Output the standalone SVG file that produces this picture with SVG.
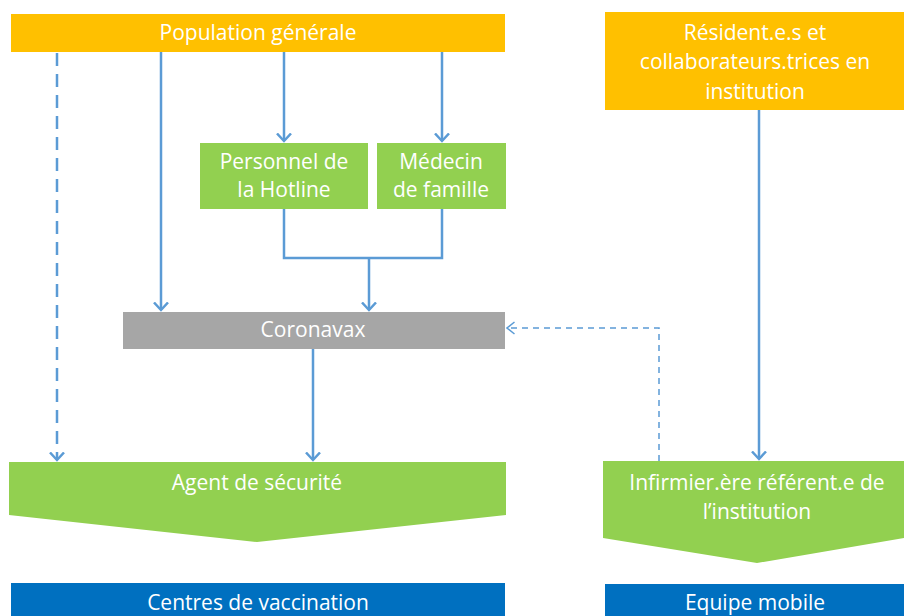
<svg xmlns="http://www.w3.org/2000/svg" width="904" height="616" viewBox="0 0 904 616">
<style>
.t{font-family:"Open Sans","Noto Sans","Liberation Sans",sans-serif;font-size:21px;fill:#fff;text-anchor:middle}
.or{fill:#FFC000}.gr{fill:#92D050}.gy{fill:#A6A6A6}.bl{fill:#0070C0}
.c{fill:none;stroke:#5B9BD5;stroke-width:2.5}
.cd{fill:none;stroke:#5B9BD5;stroke-width:2.5;stroke-dasharray:13 8}
.ct{fill:none;stroke:#5B9BD5;stroke-width:1.5;stroke-dasharray:6 5}
</style>
<defs>
<marker id="a" viewBox="0 0 10 16" refX="8.5" refY="8" markerWidth="10" markerHeight="16" markerUnits="userSpaceOnUse" orient="auto">
<path d="M1,1 L8.5,8 L1,15" fill="none" stroke="#5B9BD5" stroke-width="2.5"/>
</marker>
<marker id="b" viewBox="0 0 10 14" refX="8.5" refY="7" markerWidth="10" markerHeight="14" markerUnits="userSpaceOnUse" orient="auto">
<path d="M1,1 L8.5,7 L1,13" fill="none" stroke="#5B9BD5" stroke-width="1.5"/>
</marker>
</defs>
<g id="n-population"><rect class="or" x="11" y="14" width="494" height="38"/><text class="t" x="258" y="40">Population générale</text></g>
<g id="n-resident"><rect class="or" x="605" y="12" width="299" height="98"/><text class="t" x="755" y="40">Résident.e.s et</text><text class="t" x="755" y="69">collaborateurs.trices en</text><text class="t" x="755" y="99">institution</text></g>
<g id="n-hotline"><rect class="gr" x="200" y="143" width="168" height="66"/><text class="t" x="284" y="169">Personnel de</text><text class="t" x="284" y="197">la Hotline</text></g>
<g id="n-medecin"><rect class="gr" x="377" y="143" width="129" height="66"/><text class="t" x="441" y="169">Médecin</text><text class="t" x="441" y="197">de famille</text></g>
<g id="n-coronavax"><rect class="gy" x="123" y="312" width="382" height="37"/><text class="t" x="313" y="337">Coronavax</text></g>
<g id="n-agent"><path class="gr" d="M9,462 H506 V515 L257,542 L9,515 Z"/><text class="t" x="257" y="490">Agent de sécurité</text></g>
<g id="n-infirmier"><path class="gr" d="M603,461 H904 V538 L757,563 L603,538 Z"/><text class="t" x="757" y="490">Infirmier.ère référent.e de</text><text class="t" x="757" y="519">l’institution</text></g>
<g id="n-centres"><rect class="bl" x="11" y="583" width="494" height="33"/><text class="t" x="258" y="610">Centres de vaccination</text></g>
<g id="n-equipe"><rect class="bl" x="605" y="584" width="299" height="32"/><text class="t" x="755" y="610">Equipe mobile</text></g>
<g id="connectors">
<path class="cd" d="M57,53 V460" marker-end="url(#a)"/>
<path class="c" d="M161,52 V310" marker-end="url(#a)"/>
<path class="c" d="M284,52 V141" marker-end="url(#a)"/>
<path class="c" d="M442,52 V141" marker-end="url(#a)"/>
<path class="c" d="M284,209 V258 H442 V209"/>
<path class="c" d="M369,258 V310" marker-end="url(#a)"/>
<path class="c" d="M313,349 V460" marker-end="url(#a)"/>
<path class="c" d="M759,110 V459" marker-end="url(#a)"/>
<path class="ct" d="M659,461 V328 H507" marker-end="url(#b)"/>
</g>
</svg>
